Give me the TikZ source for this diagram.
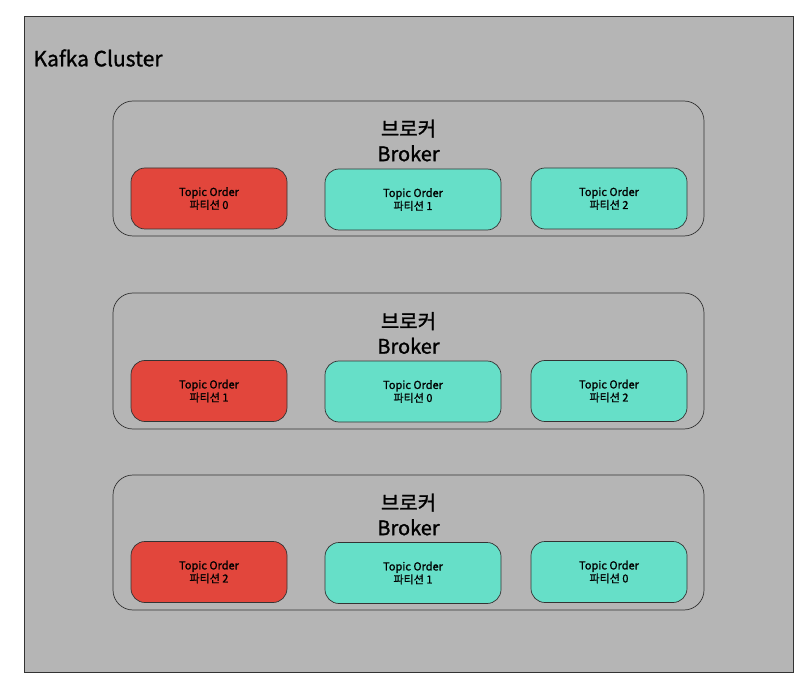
\documentclass[tikz,border=0pt]{standalone}
\usepackage{fontspec}
\setmainfont{Noto Sans CJK KR}[FakeBold=1.2,AutoFakeBold=1.2]
\usepackage{tikz}
\usetikzlibrary{positioning}
\definecolor{clustergray}{HTML}{B5B5B5}
\definecolor{leaderred}{HTML}{E2463C}
\definecolor{replicateal}{HTML}{66DFC8}
\definecolor{edgecolor}{HTML}{333333}
\tikzset{
  cluster/.style={draw=edgecolor, fill=clustergray, line width=0.8pt, minimum width=769pt, minimum height=656pt, inner sep=0pt},
  broker/.style={draw=edgecolor, rounded corners=20pt, line width=0.7pt, minimum width=591pt, minimum height=135pt, inner sep=0pt},
  btitle/.style={font=\bfseries\fontsize{20}{25}\selectfont, align=center, text=black},
  leader/.style={draw=edgecolor, fill=leaderred, rounded corners=14pt, line width=0.7pt, minimum width=156pt, minimum height=61pt, font=\bfseries\fontsize{11}{13}\selectfont, align=center, inner sep=1pt},
  replica/.style={leader, fill=replicateal},
  wide/.style={minimum width=176pt},
}
\begin{document}
\begin{tikzpicture}[x=1pt,y=-1pt]
\useasboundingbox (0,0) rectangle (812,695);
\node[cluster] (cluster) at (408.5,344) {};
\node[font=\bfseries\fontsize{21}{24}\selectfont, anchor=west] (clabel) at (30,58) {Kafka Cluster};
% broker 1
\node[broker] (b1) at (408.5,168.5) {};
\node[btitle] (b1t) at (408.5,140.5) {브로커\\Broker};
\node[leader] (b1p0) at (209,198.5) {Topic Order\\파티션 0};
\node[replica, wide] (b1p1) at (413,199.5) {Topic Order\\파티션 1};
\node[replica] (b1p2) at (609,198.5) {Topic Order\\파티션 2};
% broker 2
\node[broker, minimum height=136pt] (b2) at (408.5,361) {};
\node[btitle] (b2t) at (408.5,333) {브로커\\Broker};
\node[leader] (b2p1) at (209,391) {Topic Order\\파티션 1};
\node[replica, wide] (b2p0) at (413,391.5) {Topic Order\\파티션 0};
\node[replica] (b2p2) at (609,391) {Topic Order\\파티션 2};
% broker 3
\node[broker] (b3) at (408.5,542.5) {};
\node[btitle] (b3t) at (408.5,514.5) {브로커\\Broker};
\node[leader] (b3p2) at (209,572) {Topic Order\\파티션 2};
\node[replica, wide] (b3p1) at (413,573) {Topic Order\\파티션 1};
\node[replica] (b3p0) at (609,572) {Topic Order\\파티션 0};
\end{tikzpicture}
\end{document}
